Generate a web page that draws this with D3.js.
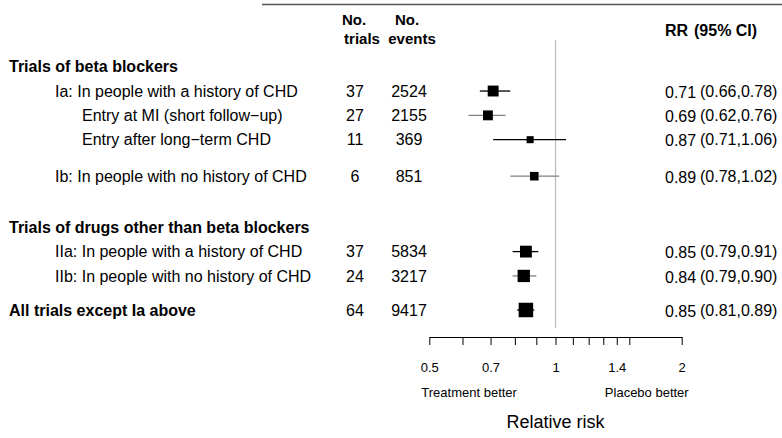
<!DOCTYPE html>
<html>
<head>
<meta charset="UTF-8">
<title>Forest plot</title>
<script src="https://cdn.jsdelivr.net/npm/d3@7"></script>
<style>
    body { margin: 0; background: #fff; }
    svg text { font-family: "Liberation Sans", Arial, sans-serif; fill: #000; }
</style>
</head>
<body>
<div id="chart"></div>
<script>
    // Table rows, top to bottom (null = section header, no estimate)
    const labels = [
        "Trials of beta blockers",
        "Ia: In people with a history of CHD",
        "Entry at MI (short follow\u2212up)",
        "Entry after long\u2212term CHD",
        "Ib: In people with no history of CHD",
        "Trials of drugs other than beta blockers",
        "IIa: In people with a history of CHD",
        "IIb: In people with no history of CHD",
        "All trials except Ia above"
    ];
    const levels  = [0, 1, 2, 2, 1, 0, 1, 1, 0];
    const nTrials = [null, 37, 27, 11, 6, null, 37, 24, 64];
    const nEvents = [null, 2524, 2155, 369, 851, null, 5834, 3217, 9417];
    const rr      = [null, 0.71, 0.69, 0.87, 0.89, null, 0.85, 0.84, 0.85];
    const ciLow   = [null, 0.66, 0.62, 0.71, 0.78, null, 0.79, 0.79, 0.81];
    const ciHigh  = [null, 0.78, 0.76, 1.06, 1.02, null, 0.91, 0.90, 0.89];

    const tickValues = [0.5, 0.6, 0.7, 0.8, 0.9, 1, 1.1, 1.2, 1.3, 1.4, 1.5, 2];
    const tickLabels = ["0.5", "", "0.7", "", "", "1", "", "", "", "1.4", "", "2"];

    const W = 782, H = 438;
    const svg = d3.select("#chart").append("svg")
        .attr("width", W)
        .attr("height", H);

    // blank half-lines after some rows
    const spacerAfter = { 3: 0.5, 4: 1.1, 7: 0.4 };
    let slot = 0;
    const rows = labels.map((label, i) => {
        const r = {
            label, level: levels[i], trials: nTrials[i], events: nEvents[i],
            rr: rr[i], lo: ciLow[i], hi: ciHigh[i], slot
        };
        slot += 1 + (spacerAfter[i] || 0);
        return r;
    });

    const x = d3.scaleLog().domain([0.5, 2]).range([429.3, 681.7]);
    const y = d3.scaleLinear().domain([0, 10]).range([66.7, 310]);

    // box area proportional to precision (1 / SE of log RR)
    rows.forEach(d => {
        if (d.rr != null) d.prec = 3.92 / (Math.log(d.hi) - Math.log(d.lo));
    });
    const boxSize = d3.scaleSqrt()
        .domain([0, d3.max(rows, d => d.prec)])
        .range([0, 14.5]);

    const grayCI = new Set([2, 4, 7]);
    const fmt = d3.format(".2f");
    const est = rows.filter(d => d.rr != null);

    // top rule
    svg.append("line")
        .attr("x1", 262).attr("x2", W)
        .attr("y1", 4.5).attr("y2", 4.5)
        .attr("stroke", "#555")
        .attr("stroke-width", 1.5);

    // column headers
    const head = svg.append("g").attr("font-weight", "bold").attr("font-size", 15);
    head.append("text").attr("x", 354).attr("y", 20).attr("dy", "0.35em")
        .attr("text-anchor", "middle").text("No.");
    head.append("text").attr("x", 362).attr("y", 39).attr("dy", "0.35em")
        .attr("text-anchor", "middle").text("trials");
    head.append("text").attr("x", 407).attr("y", 20).attr("dy", "0.35em")
        .attr("text-anchor", "middle").text("No.");
    head.append("text").attr("x", 412).attr("y", 39).attr("dy", "0.35em")
        .attr("text-anchor", "middle").text("events");
    head.append("text").attr("x", 665).attr("y", 30).attr("dy", "0.35em")
        .attr("font-size", 16).text("RR");
    head.append("text").attr("x", 694).attr("y", 30).attr("dy", "0.35em")
        .attr("font-size", 16).text("(95% CI)");

    // reference line at RR = 1
    svg.append("line")
        .attr("x1", x(1)).attr("x2", x(1))
        .attr("y1", 40).attr("y2", 328)
        .attr("stroke", "#bbb")
        .attr("stroke-width", 1.2);

    // row labels
    const indent = [9, 55, 82];
    svg.append("g").selectAll("text")
        .data(rows)
        .join("text")
        .attr("x", d => indent[d.level])
        .attr("y", d => y(d.slot))
        .attr("dy", "0.35em")
        .attr("font-size", 16)
        .attr("font-weight", d => d.level === 0 ? "bold" : "normal")
        .text(d => d.label);

    // counts
    svg.append("g").selectAll("text")
        .data(est)
        .join("text")
        .attr("x", 355)
        .attr("y", d => y(d.slot))
        .attr("dy", "0.35em")
        .attr("text-anchor", "middle")
        .attr("font-size", 16)
        .text(d => d.trials);

    svg.append("g").selectAll("text")
        .data(est)
        .join("text")
        .attr("x", 409)
        .attr("y", d => y(d.slot))
        .attr("dy", "0.35em")
        .attr("text-anchor", "middle")
        .attr("font-size", 16)
        .text(d => d.events);

    // confidence intervals
    svg.append("g").selectAll("line")
        .data(est)
        .join("line")
        .attr("x1", d => x(d.lo))
        .attr("x2", d => x(d.hi))
        .attr("y1", d => y(d.slot))
        .attr("y2", d => y(d.slot))
        .attr("stroke", d => grayCI.has(rows.indexOf(d)) ? "#808080" : "#000")
        .attr("stroke-width", 1.3);

    // point estimates
    svg.append("g").selectAll("rect")
        .data(est)
        .join("rect")
        .attr("x", d => x(d.rr) - boxSize(d.prec) / 2)
        .attr("y", d => y(d.slot) - boxSize(d.prec) / 2)
        .attr("width", d => boxSize(d.prec))
        .attr("height", d => boxSize(d.prec))
        .attr("fill", "#000");

    // RR and CI text
    svg.append("g").selectAll("text")
        .data(est)
        .join("text")
        .attr("x", 665)
        .attr("y", d => y(d.slot) + 1)
        .attr("dy", "0.35em")
        .attr("font-size", 16)
        .text(d => fmt(d.rr));

    svg.append("g").selectAll("text")
        .data(est)
        .join("text")
        .attr("x", 700)
        .attr("y", d => y(d.slot))
        .attr("dy", "0.35em")
        .attr("font-size", 16)
        .text(d => `(${fmt(d.lo)},${fmt(d.hi)})`);

    // x axis
    const axis = svg.append("g")
        .attr("transform", "translate(0,337)")
        .call(d3.axisBottom(x)
            .tickValues(tickValues)
            .tickFormat((d, i) => tickLabels[i])
            .tickSize(8)
            .tickSizeOuter(0)
            .tickPadding(18));
    axis.selectAll("text")
        .attr("font-size", 13)
        .style("font-family", "\"Liberation Sans\", Arial, sans-serif");
    axis.selectAll("line, path").attr("stroke", "#000");

    svg.append("text")
        .attr("x", x(0.5) - 8).attr("y", 392).attr("dy", "0.35em")
        .attr("font-size", 13)
        .text("Treatment better");
    svg.append("text")
        .attr("x", x(2) + 7).attr("y", 392).attr("dy", "0.35em")
        .attr("text-anchor", "end")
        .attr("font-size", 13)
        .text("Placebo better");

    svg.append("text")
        .attr("x", x(1)).attr("y", 422).attr("dy", "0.35em")
        .attr("text-anchor", "middle")
        .attr("font-size", 18)
        .text("Relative risk");
</script>
</body>
</html>
